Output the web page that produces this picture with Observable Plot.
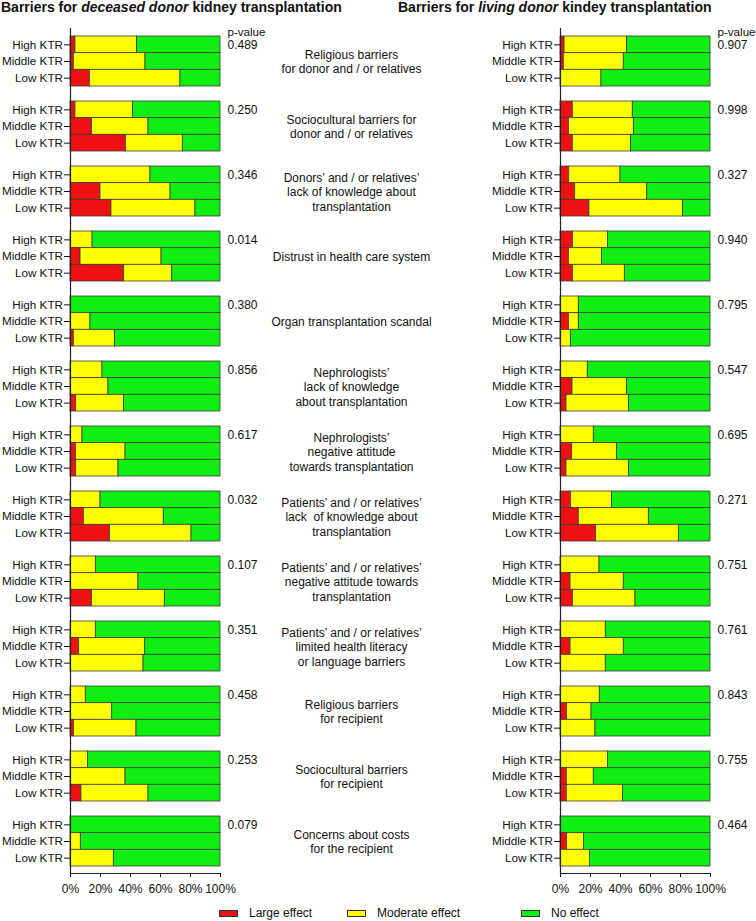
<!DOCTYPE html>
<html>
<head>
<meta charset="utf-8">
<script src="https://cdn.jsdelivr.net/npm/d3@7"></script>
<script src="https://cdn.jsdelivr.net/npm/@observablehq/plot@0.6"></script>
<style>
  body { margin: 0; background: #fff; font-family: "Liberation Sans", Arial, sans-serif; color: #111; }
  #wrap { position: relative; width: 756px; height: 921px; overflow: hidden; }
  #chart { position: absolute; left: 0; top: 0; }
  .title { position: absolute; top: 0px; font-weight: bold; font-size: 14px; line-height: 15px; white-space: nowrap; color: #111; }
  .leg { position: absolute; top: 906px; font-size: 12px; line-height: 14px; display: flex; align-items: center; white-space: nowrap; }
  .sw { width: 17px; height: 5px; border: 1px solid #333; margin-right: 11px; }
</style>
</head>
<body>
<div id="wrap">
  <div id="chart"></div>
  <div class="title" style="left:1px">Barriers for <i>deceased donor</i> kidney transplantation</div>
  <div class="title" style="left:398px">Barriers for <i>living donor</i> kindey transplantation</div>
  <div id="legend"></div>
</div>
<script>
// ---- data ----
const barriers = [
  "Religious barriers\nfor donor and / or relatives",
  "Sociocultural barriers for\ndonor and / or relatives",
  "Donors\u2019 and / or relatives\u2019\nlack of knowledge about\ntransplantation",
  "Distrust in health care system",
  "Organ transplantation scandal",
  "Nephrologists\u2019\nlack of knowledge\nabout transplantation",
  "Nephrologists\u2019\nnegative attitude\ntowards transplantation",
  "Patients\u2019 and / or relatives\u2019\nlack  of knowledge about\ntransplantation",
  "Patients\u2019 and / or relatives\u2019\nnegative attitude towards\ntransplantation",
  "Patients\u2019 and / or relatives\u2019\nlimited health literacy\nor language barriers",
  "Religious barriers\nfor recipient",
  "Sociocultural barriers\nfor recipient",
  "Concerns about costs\nfor the recipient"
];
const levels = ["High KTR", "Middle KTR", "Low KTR"];
const effects = ["Large effect", "Moderate effect", "No effect"];
const effectColors = ["#ee1111", "#ffff00", "#11ee11"];
const panels = ["deceased", "living"];
const xTicks = [0, 20, 40, 60, 80, 100];

// % Large effect per barrier: [High, Middle, Low]
const deceasedLarge = [
  [3.3, 2.2, 12.9], [3.3, 14.4, 36.9], [0, 20, 27.3], [0, 6.7, 35.8], [0, 0, 2.2],
  [0, 0, 3.8], [0, 3.6, 3.8], [0, 8.9, 26.4], [0, 0, 14.4], [0, 5.8, 0],
  [0, 0, 2.4], [0, 0, 7.3], [0, 0, 0]
];
// % Moderate effect per barrier: [High, Middle, Low]
const deceasedModerate = [
  [41.1, 47.8, 60.4], [38.3, 37.6, 38.0], [53.3, 46.7, 56.0], [14.7, 54.0, 32.0], [0, 13.3, 27.4],
  [21.3, 25.3, 31.8], [8.0, 33.1, 28.2], [20.0, 53.3, 54.3], [16.9, 45.3, 48.5], [16.9, 44.0, 48.7],
  [10.2, 27.8, 41.6], [11.6, 36.7, 44.7], [0, 6.9, 28.9]
];
const livingLarge = [
  [2.7, 2.2, 0], [8.2, 5.6, 8.2], [5.8, 9.8, 19.3], [8.4, 5.6, 8.4], [0, 5.6, 0],
  [0, 8.0, 4.0], [0, 7.8, 4.0], [7.1, 12.2, 23.8], [0, 6.7, 8.4], [0, 6.7, 0],
  [0, 4.4, 0], [0, 4.2, 4.2], [0, 4.4, 0]
];
const livingModerate = [
  [41.7, 40.0, 27.3], [40.0, 43.3, 38.9], [34.2, 48.0, 62.3], [23.2, 22.0, 34.5], [12.2, 6.6, 6.9],
  [18.2, 36.4, 41.6], [22.2, 29.8, 41.6], [27.3, 46.7, 55.1], [26.0, 35.5, 41.6], [30.2, 35.5, 30.2],
  [26.2, 16.3, 23.3], [31.6, 18.0, 37.4], [0, 11.2, 19.6]
];
const deceasedP = ["0.489", "0.250", "0.346", "0.014", "0.380", "0.856", "0.617", "0.032", "0.107", "0.351", "0.458", "0.253", "0.079"];
const livingP = ["0.907", "0.998", "0.327", "0.940", "0.795", "0.547", "0.695", "0.271", "0.751", "0.761", "0.843", "0.755", "0.464"];

// ---- build tables ----
const largeBy = {deceased: deceasedLarge, living: livingLarge};
const moderateBy = {deceased: deceasedModerate, living: livingModerate};
const pBy = {deceased: deceasedP, living: livingP};
const bars = [];
panels.forEach(panel => barriers.forEach((barrier, gi) => levels.forEach((level, li) => {
  const L = largeBy[panel][gi][li], M = moderateBy[panel][gi][li];
  bars.push({panel, barrier, level, effect: effects[0], value: L});
  bars.push({panel, barrier, level, effect: effects[1], value: M});
  bars.push({panel, barrier, level, effect: effects[2], value: 100 - L - M});
})));
const pRows = [];
panels.forEach(panel => barriers.forEach((barrier, gi) => pRows.push({panel, barrier, p: pBy[panel][gi]})));
const labelRows = barriers.map(barrier => ({panel: "deceased", barrier}));
const headRows = panels.map(panel => ({panel, barrier: barriers[0]}));

const chart = Plot.plot({
  width: 756,
  height: 900,
  marginTop: 36,
  marginBottom: 34,
  marginLeft: 70,
  marginRight: 46,
  style: {fontFamily: '"Liberation Sans", Arial, sans-serif', fontSize: "12px", color: "#111", background: "transparent"},
  fx: {domain: panels, axis: null, paddingInner: 0.6939, paddingOuter: 0, round: false},
  fy: {domain: barriers, axis: null, paddingInner: 15 / 65, paddingOuter: 0, round: false},
  x: {domain: [0, 100]},
  y: {domain: levels, padding: 0, round: false},
  color: {domain: effects, range: effectColors},
  marks: [
    Plot.barX(bars, Plot.stackX({x: "value", y: "level", fx: "panel", fy: "barrier", fill: "effect", stroke: "#3b3b3b", strokeWidth: 0.8})),
    Plot.ruleX([0], {stroke: "#222", strokeWidth: 1.2, insetTop: -8, insetBottom: -8}),
    Plot.frame({anchor: "bottom", facetAnchor: "bottom", dy: 7, stroke: "#222"}),
    Plot.axisX({anchor: "bottom", ticks: xTicks, tickFormat: d => d + "%", tickSize: 4, tickPadding: 7, dy: 7, label: null, fontSize: 12}),
    Plot.axisY({anchor: "left", facetAnchor: null, tickSize: 6, tickPadding: 1.5, label: null, fontSize: 11.7}),
    Plot.text(labelRows, {fx: "panel", fy: "barrier", x: 100, dx: 131, frameAnchor: "middle", text: "barrier", textAnchor: "middle", lineHeight: 1.2, fontSize: 12, fill: "#111"}),
    Plot.text(pRows, {fx: "panel", fy: "barrier", x: 100, y: () => levels[0], dx: 7, text: "p", textAnchor: "start", fontSize: 12, fill: "#111"}),
    Plot.text(headRows, {fx: "panel", fy: "barrier", x: 100, y: () => levels[0], dx: 7, dy: -13, text: () => "p-value", textAnchor: "start", fontSize: 11.6, fill: "#111"})
  ]
});
document.getElementById("chart").appendChild(chart);

// legend (HTML, below the SVG)
const legendLeft = [219, 347, 521];
const legend = document.getElementById("legend");
effects.forEach((e, i) => {
  const item = document.createElement("div");
  item.className = "leg";
  item.style.left = legendLeft[i] + "px";
  item.innerHTML = `<span class="sw" style="background:${effectColors[i]}"></span><span>${e}</span>`;
  legend.appendChild(item);
});
</script>
</body>
</html>
